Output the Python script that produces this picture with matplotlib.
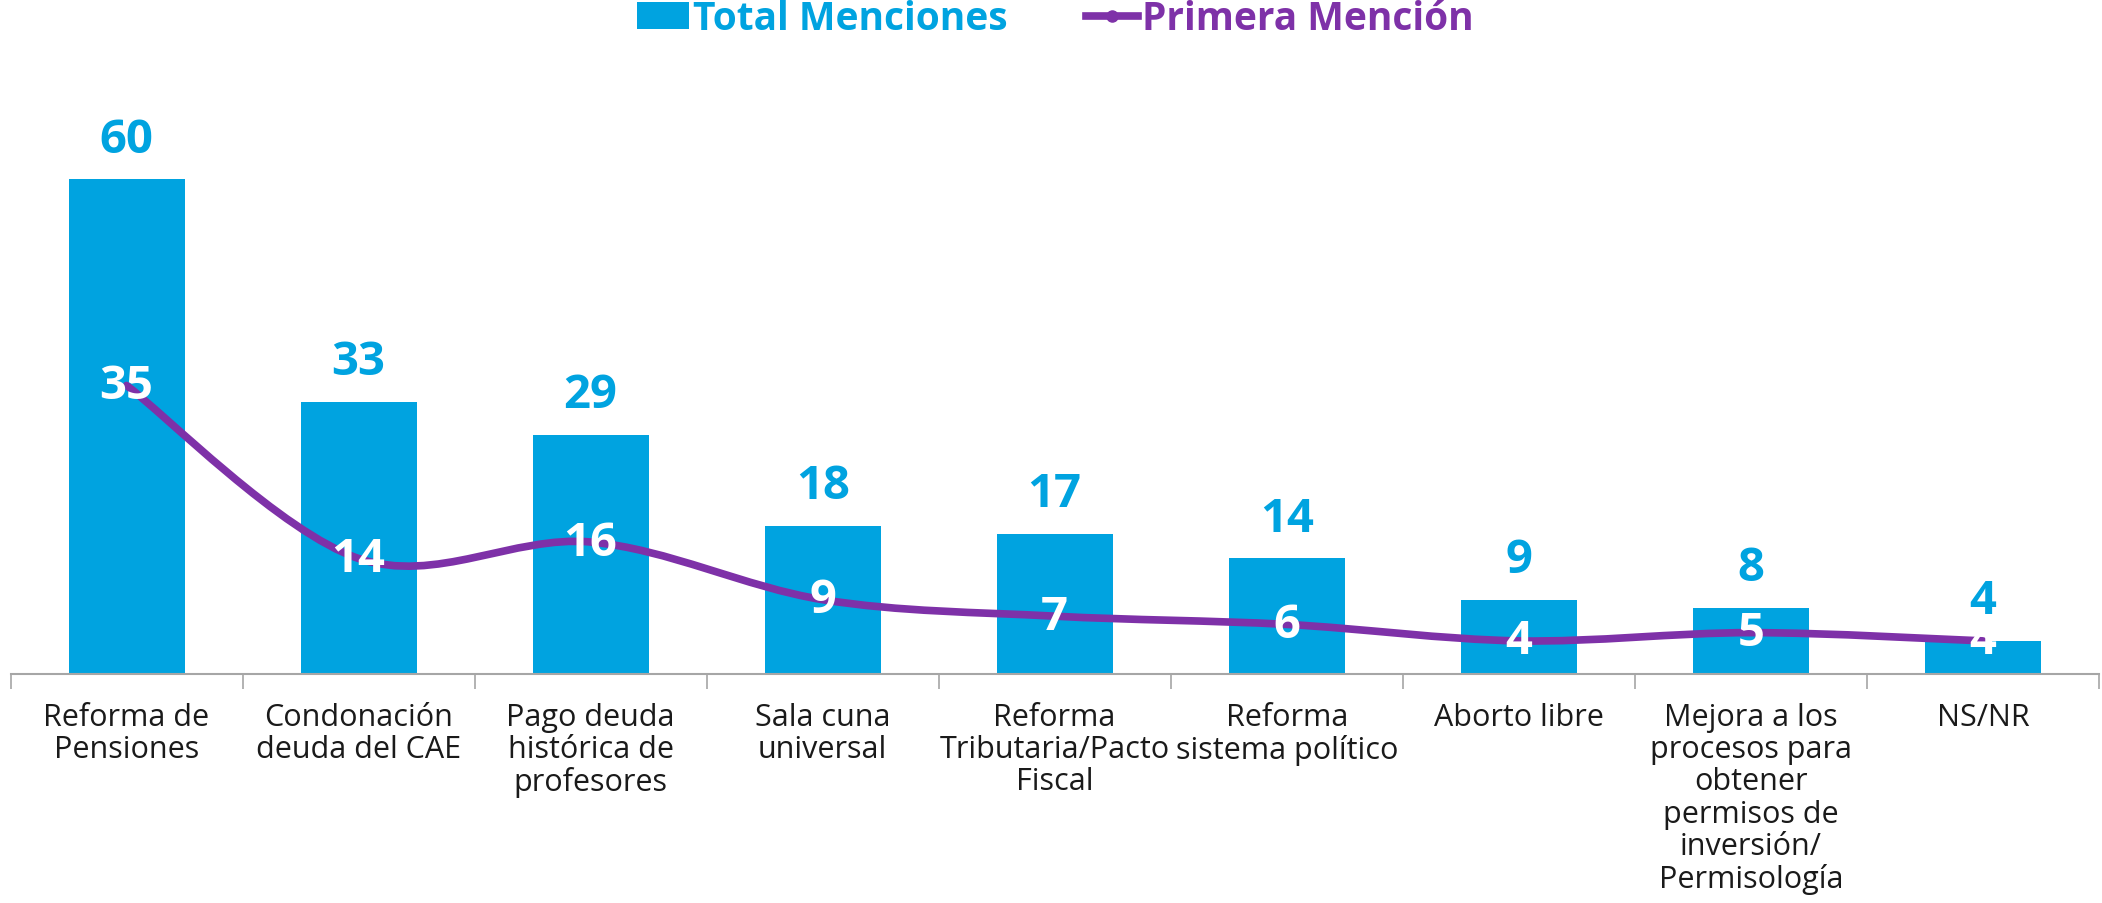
#!/usr/bin/env python3
"""Total vs primera mención por tema: barras + línea suavizada."""

import numpy as np
import matplotlib.pyplot as plt
from matplotlib.path import Path
from matplotlib.patches import PathPatch, Patch
from matplotlib.lines import Line2D

plt.rcParams['font.family'] = ['Open Sans', 'DejaVu Sans']

# ============================================================================
# Data
# ============================================================================

categories = [
    "Reforma de\nPensiones",
    "Condonación\ndeuda del CAE",
    "Pago deuda\nhistórica de\nprofesores",
    "Sala cuna\nuniversal",
    "Reforma\nTributaria/Pacto\nFiscal",
    "Reforma\nsistema político",
    "Aborto libre",
    "Mejora a los\nprocesos para\nobtener\npermisos de\ninversión/\nPermisología",
    "NS/NR",
]
total_menciones = [60, 33, 29, 18, 17, 14, 9, 8, 4]
primera_mencion = [35, 14, 16, 9, 7, 6, 4, 5, 4]

BLUE = '#00A3E0'
PURPLE = '#7E31A8'
GREY = '#A6A6A6'


def smooth_path(x, y, tension=1 / 6):
    """Catmull-Rom style Bezier through the points (Excel-like smoothed line)."""
    pts = np.column_stack([x, y]).astype(float)
    n = len(pts)
    verts = [pts[0]]
    codes = [Path.MOVETO]
    for i in range(n - 1):
        p0 = pts[i - 1] if i > 0 else pts[i]
        p1 = pts[i]
        p2 = pts[i + 1]
        p3 = pts[i + 2] if i + 2 < n else pts[i + 1]
        c1 = p1 + (p2 - p0) * tension
        c2 = p2 - (p3 - p1) * tension
        verts += [c1, c2, p2]
        codes += [Path.CURVE4] * 3
    return Path(verts, codes)


# ============================================================================
# Plot
# ============================================================================

fig = plt.figure(figsize=(21.02, 9.04), dpi=100)
ax = fig.add_axes([0.005, 0.2535, 0.9935, 0.638])

x = np.arange(len(categories))
ax.bar(x, total_menciones, width=0.5, color=BLUE, zorder=2)

path = smooth_path(x, primera_mencion)
ax.add_patch(PathPatch(path, facecolor='none', edgecolor=PURPLE,
                       linewidth=5.5, capstyle='round', zorder=3))

for xi, v in zip(x, total_menciones):
    ax.annotate(str(v), (xi, v), xytext=(0, 12), textcoords='offset points',
                ha='center', va='bottom', fontsize=34, fontweight='bold',
                color=BLUE, zorder=4)

for xi, v in zip(x, primera_mencion):
    ax.text(xi, v, str(v), ha='center', va='center', fontsize=34,
            fontweight='bold', color='white', zorder=5)

ax.set_xlim(-0.5, len(categories) - 0.5)
ax.set_ylim(0, 70)

for side in ['top', 'right', 'left']:
    ax.spines[side].set_visible(False)
ax.spines['bottom'].set_color(GREY)
ax.spines['bottom'].set_linewidth(1.5)
ax.set_yticks([])

ax.set_xticks(x)
ax.set_xticklabels(categories, fontsize=22, color='#1A1A1A', linespacing=1.1)
ax.set_xticks(np.arange(-0.5, len(categories)), minor=True)
ax.tick_params(axis='x', which='major', length=0, pad=20)
ax.tick_params(axis='x', which='minor', length=11, width=1.2, color=GREY)

handles = [
    Patch(facecolor=BLUE, edgecolor='none'),
    Line2D([0], [0], color=PURPLE, lw=5.5, marker='o', markersize=8),
]
fig.legend(handles, ['Total Menciones', 'Primera Mención'],
           loc='center', bbox_to_anchor=(0.502, 0.978), ncol=2,
           frameon=False, handlelength=1.35,
           handletextpad=0.1, columnspacing=2.0,
           labelcolor=[BLUE, PURPLE],
           prop={'weight': 'bold', 'size': 28})

fig.savefig('out.png', dpi=100)
